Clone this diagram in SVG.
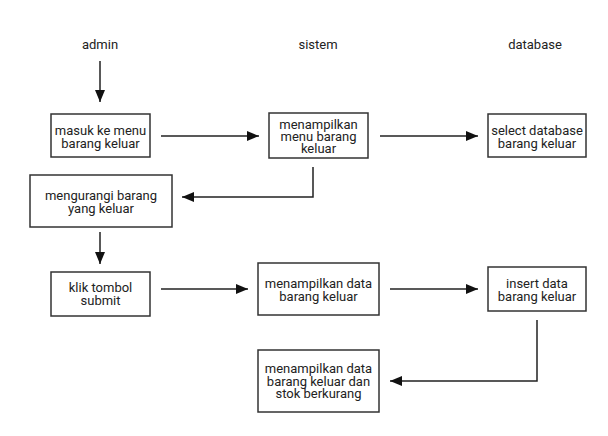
<svg xmlns="http://www.w3.org/2000/svg" width="608" height="436" viewBox="0 0 608 436">
<style>
.box{fill:#fff;stroke:#333;stroke-width:1.5}
.t{font-family:Roboto,"Liberation Sans",sans-serif;font-size:13px;fill:#222;text-anchor:middle}
.c{fill:none;stroke:#222;stroke-width:1.5}
</style>
<defs>
<marker id="ah" viewBox="0 0 12 10" refX="12" refY="5" markerWidth="12" markerHeight="10" markerUnits="userSpaceOnUse" orient="auto">
<path d="M0,0 L12,5 L0,10 Z" fill="#111"/>
</marker>
</defs>
<rect width="608" height="436" fill="#fff"/>
<g id="lanes">
<text class="t" x="100" y="49">admin</text>
<text class="t" x="318" y="49">sistem</text>
<text class="t" x="535" y="49">database</text>
</g>
<g id="connectors">
<line class="c" x1="100" y1="61" x2="100" y2="102" marker-end="url(#ah)"/>
<line class="c" x1="161" y1="136" x2="259" y2="136" marker-end="url(#ah)"/>
<line class="c" x1="380" y1="136" x2="478" y2="136" marker-end="url(#ah)"/>
<polyline class="c" points="313,167 313,197 182,197" marker-end="url(#ah)"/>
<line class="c" x1="100" y1="232" x2="100" y2="264" marker-end="url(#ah)"/>
<line class="c" x1="161" y1="289" x2="248" y2="289" marker-end="url(#ah)"/>
<line class="c" x1="390" y1="289" x2="478" y2="289" marker-end="url(#ah)"/>
<polyline class="c" points="537,320 537,381 390,381" marker-end="url(#ah)"/>
</g>
<g id="n1">
<rect class="box" x="51" y="114" width="99" height="43"/>
<text class="t" x="100.5" y="135">masuk ke menu</text>
<text class="t" x="100.5" y="148">barang keluar</text>
</g>
<g id="n2">
<rect class="box" x="269" y="113" width="99" height="45"/>
<text class="t" x="318.5" y="129">menampilkan</text>
<text class="t" x="318.5" y="141">menu barang</text>
<text class="t" x="318.5" y="153">keluar</text>
</g>
<g id="n3">
<rect class="box" x="488" y="114" width="98" height="43"/>
<text class="t" x="537" y="135">select database</text>
<text class="t" x="537" y="148">barang keluar</text>
</g>
<g id="n4">
<rect class="box" x="30" y="175" width="142" height="52"/>
<text class="t" x="101" y="200">mengurangi barang</text>
<text class="t" x="101" y="213">yang keluar</text>
</g>
<g id="n5">
<rect class="box" x="51" y="272" width="99" height="44"/>
<text class="t" x="100.5" y="292">klik tombol</text>
<text class="t" x="100.5" y="305">submit</text>
</g>
<g id="n6">
<rect class="box" x="258" y="263" width="121" height="52"/>
<text class="t" x="318.5" y="288">menampilkan data</text>
<text class="t" x="318.5" y="301">barang keluar</text>
</g>
<g id="n7">
<rect class="box" x="488" y="267" width="98" height="44"/>
<text class="t" x="537" y="288">insert data</text>
<text class="t" x="537" y="301">barang keluar</text>
</g>
<g id="n8">
<rect class="box" x="258" y="350" width="121" height="62"/>
<text class="t" x="318.5" y="373">menampilkan data</text>
<text class="t" x="318.5" y="386">barang keluar dan</text>
<text class="t" x="318.5" y="398">stok berkurang</text>
</g>
</svg>
